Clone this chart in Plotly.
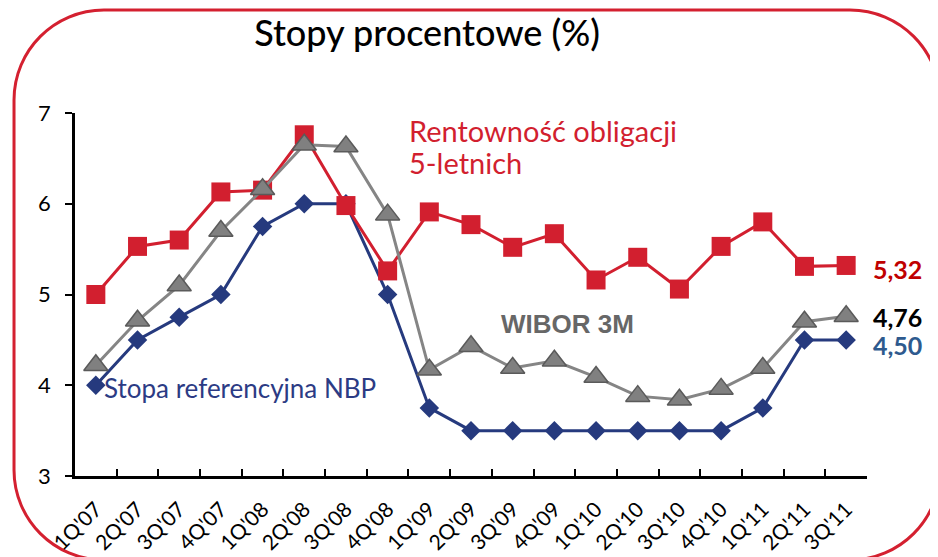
import plotly.graph_objects as go

# kwartały
quarters = ["1Q'07", "2Q'07", "3Q'07", "4Q'07", "1Q'08", "2Q'08", "3Q'08", "4Q'08",
            "1Q'09", "2Q'09", "3Q'09", "4Q'09", "1Q'10", "2Q'10", "3Q'10", "4Q'10",
            "1Q'11", "2Q'11", "3Q'11"]

# rentowność obligacji 5-letnich
bonds_5y = [5.00, 5.53, 5.60, 6.13, 6.15, 6.76, 5.98, 5.26, 5.91, 5.77,
            5.52, 5.67, 5.16, 5.41, 5.06, 5.53, 5.80, 5.31, 5.32]
# WIBOR 3M
wibor_3m = [4.22, 4.71, 5.10, 5.70, 6.16, 6.65, 6.63, 5.88, 4.17, 4.43,
            4.19, 4.27, 4.09, 3.88, 3.84, 3.96, 4.19, 4.70, 4.76]
# stopa referencyjna NBP
nbp_rate = [4.00, 4.50, 4.75, 5.00, 5.75, 6.00, 6.00, 5.00, 3.75, 3.50,
            3.50, 3.50, 3.50, 3.50, 3.50, 3.50, 3.75, 4.50, 4.50]

end_labels = ["5,32", "4,76", "4,50"]

W, H = 938, 557
OFF = 8  # margines body strony
# obszar wykresu w pikselach strony: x 75..867, y 113..476
ML, MT = 75 - OFF, 113 - OFF
MR, MB = W - (867 - OFF), H - (476 - OFF)
PW, PH = W - ML - MR, H - MT - MB

def px(x, y):
    # piksele strony -> wspolrzedne paper
    return f"{(x - OFF - ML) / PW:.4f},{(H - MB - (y - OFF)) / PH:.4f}"

def pxx(x):
    return (x - OFF - ML) / PW

def pxy(y):
    return (H - MB - (y - OFF)) / PH

def frame_path(x0, y0, x1, y1, r):
    k = 0.448 * r
    return ("M " + px(x0, y0 + r) +
            " C " + px(x0, y0 + k) + " " + px(x0 + k, y0) + " " + px(x0 + r, y0) +
            " L " + px(x1 - r, y0) +
            " C " + px(x1 - k, y0) + " " + px(x1, y0 + k) + " " + px(x1, y0 + r) +
            " L " + px(x1, y1 - r) +
            " C " + px(x1, y1 - k) + " " + px(x1 - k, y1) + " " + px(x1 - r, y1) +
            " L " + px(x0 + r, y1) +
            " C " + px(x0 + k, y1) + " " + px(x0, y1 - k) + " " + px(x0, y1 - r) +
            " Z")

fig = go.Figure()
fig.add_trace(go.Scatter(x=quarters, y=nbp_rate, mode="lines+markers",
                         line=dict(color="#263a7e", width=3),
                         marker=dict(symbol="diamond", size=15, color="#263a7e")))
fig.add_trace(go.Scatter(x=quarters, y=bonds_5y, mode="lines+markers",
                         line=dict(color="#d21f2f", width=3),
                         marker=dict(symbol="square", size=19, color="#d21f2f")))
fig.add_trace(go.Scatter(x=quarters, y=wibor_3m, mode="lines+markers",
                         line=dict(color="#858585", width=3),
                         marker=dict(symbol="triangle-up", size=21, color="#808080",
                                     line=dict(color="#5a5a5a", width=1.5))))

fig.update_layout(
    width=W, height=H,
    margin=dict(l=ML, r=MR, t=MT, b=MB, autoexpand=False),
    paper_bgcolor="white", plot_bgcolor="white",
    showlegend=False,
    title=dict(text="Stopy procentowe (%)", x=pxx(427), xref="paper",
               xanchor="center", y=1 - (33 - OFF) / H, yanchor="middle",
               font=dict(family="Lato", size=36, color="black", weight=500)),
    xaxis=dict(range=[-0.5, len(quarters) - 0.5], showgrid=False,
               showline=True, linecolor="black", linewidth=2.5,
               automargin=False,
               ticks="inside", tickson="boundaries", ticklen=7, tickwidth=2,
               tickcolor="black", tickangle=-45, ticklabelstandoff=10,
               tickfont=dict(family="Lato", size=21, color="black")),
    yaxis=dict(range=[3, 7], dtick=1, showgrid=False, zeroline=False,
               automargin=False,
               showline=True, linecolor="black", linewidth=2.5,
               ticks="outside", ticklen=7, tickwidth=2, tickcolor="black",
               ticklabelstandoff=10,
               tickfont=dict(family="Lato", size=22, color="black")),
    shapes=[dict(type="path", xref="paper", yref="paper",
                 path=frame_path(14, 10, 940, 560, 90),
                 line=dict(color="#d42030", width=3), layer="below")],
)

for line_txt, yc in [("Rentowność obligacji", 130), ("5-letnich", 163)]:
    fig.add_annotation(text=line_txt, xref="paper", yref="paper",
                       x=pxx(407), y=pxy(yc), xanchor="left", yanchor="middle",
                       showarrow=False,
                       font=dict(family="Lato", size=29, color="#d21f2f"))
fig.add_annotation(text="<b>WIBOR 3M</b>", xref="paper", yref="paper",
                   x=pxx(567), y=pxy(324), xanchor="center", yanchor="middle",
                   showarrow=False,
                   font=dict(family="Liberation Sans", size=26, color="#676767"))
fig.add_annotation(text="Stopa referencyjna NBP", xref="paper", yref="paper",
                   x=pxx(102), y=pxy(388), xanchor="left", yanchor="middle",
                   showarrow=False,
                   font=dict(family="Lato", size=26, color="#2c3b84"))

label_colors = ["#c00000", "black", "#2e5a8e"]
label_values = [bonds_5y[-1], wibor_3m[-1], nbp_rate[-1]]
label_shift = [-4, -1, -5]
for txt, val, col, sh in zip(end_labels, label_values, label_colors, label_shift):
    fig.add_annotation(text=f"<b>{txt}</b>", x=quarters[-1], y=val, xanchor="left",
                       yanchor="middle", xshift=25, yshift=sh, showarrow=False,
                       font=dict(family="Lato", size=25, color=col))

fig.write_html("out.html")
